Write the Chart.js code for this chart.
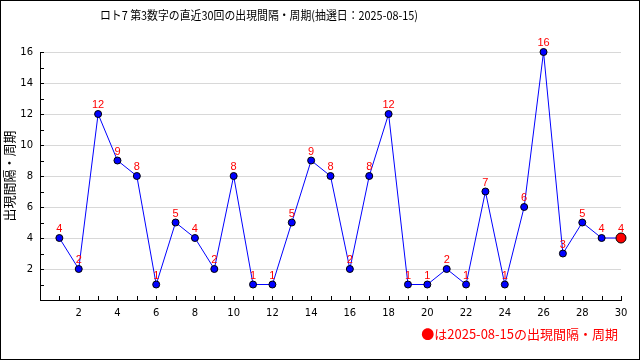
<!DOCTYPE html>
<html>
<head>
<meta charset="utf-8">
<script src="https://cdn.jsdelivr.net/npm/chart.js@4.4.1/dist/chart.umd.min.js"></script>
<style>
  body { margin: 0; background: #fff; }
  #wrap { width: 640px; height: 360px; }
</style>
</head>
<body>
<div id="wrap"><canvas id="intervalChart" width="640" height="360"></canvas></div>
<script>
// 抽選回 (1 = 最古, 30 = 最新)
const draws = [1, 2, 3, 4, 5, 6, 7, 8, 9, 10, 11, 12, 13, 14, 15, 16, 17, 18, 19, 20, 21, 22, 23, 24, 25, 26, 27, 28, 29, 30];
// 出現間隔・周期
const intervals = [4, 2, 12, 9, 8, 1, 5, 4, 2, 8, 1, 1, 5, 9, 8, 2, 8, 12, 1, 1, 2, 1, 7, 1, 6, 16, 3, 5, 4, 4];
const yTicks = [2, 4, 6, 8, 10, 12, 14, 16];
const xTicks = [2, 4, 6, 8, 10, 12, 14, 16, 18, 20, 22, 24, 26, 28, 30];

const titleText = 'ロト7 第3数字の直近30回の出現間隔・周期(抽選日：2025-08-15)';
const yTitle = '出現間隔・周期';
const noteText = '●は2025-08-15の出現間隔・周期';

const jpFont = '"Noto Sans CJK JP", sans-serif';

const last = draws.length - 1;

// title, labels, inner tick marks, frame
const extras = {
    id: 'extras',
    afterDraw(chart) {
        const ctx = chart.ctx;
        const xs = chart.scales.x;
        const ys = chart.scales.y;
        const area = chart.chartArea;
        ctx.save();

        // inner tick marks
        ctx.strokeStyle = '#000';
        ctx.lineWidth = 1;
        ctx.beginPath();
        for (let v = 1; v <= 30; v++) {
            const px = Math.round(xs.getPixelForValue(v)) + 0.5;
            ctx.moveTo(px, area.bottom);
            ctx.lineTo(px, area.bottom - 4);
        }
        for (let v = 1; v <= 16; v++) {
            const py = Math.round(ys.getPixelForValue(v)) + 0.5;
            ctx.moveTo(area.left, py);
            ctx.lineTo(area.left + 4, py);
        }
        ctx.stroke();

        // value labels
        ctx.fillStyle = '#ff0000';
        ctx.font = '11px "Liberation Sans", sans-serif';
        ctx.textAlign = 'center';
        ctx.textBaseline = 'alphabetic';
        const meta = chart.getDatasetMeta(0);
        meta.data.forEach((pt, i) => {
            ctx.fillText(String(intervals[i]), pt.x, pt.y - 6);
        });

        // title (squeezed to the reference width)
        ctx.fillStyle = '#000';
        ctx.font = '12px ' + jpFont;
        ctx.textAlign = 'left';
        ctx.textBaseline = 'middle';
        const tw = ctx.measureText(titleText).width;
        ctx.save();
        ctx.translate(100, 15);
        ctx.scale(318 / tw, 1);
        ctx.fillText(titleText, 0, 0);
        ctx.restore();

        // y axis title
        ctx.save();
        ctx.font = '13px ' + jpFont;
        ctx.translate(9, (area.top + area.bottom) / 2);
        ctx.rotate(-Math.PI / 2);
        ctx.textAlign = 'center';
        ctx.fillText(yTitle, 0, 0);
        ctx.restore();

        // note
        ctx.fillStyle = '#ff0000';
        ctx.font = '13px ' + jpFont;
        ctx.textAlign = 'right';
        ctx.fillText(noteText, 618, 334);

        // frame
        ctx.strokeStyle = '#000';
        ctx.strokeRect(0.5, 0.5, 639, 359);
        ctx.restore();
    }
};

new Chart(document.getElementById('intervalChart'), {
    type: 'line',
    data: {
        datasets: [{
            data: draws.map((d, i) => ({ x: d, y: intervals[i] })),
            borderColor: '#0000ff',
            borderWidth: 1,
            tension: 0,
            fill: false,
            clip: false,
            pointRadius: draws.map((d, i) => i === last ? 5 : 3.5),
            pointBackgroundColor: draws.map((d, i) => i === last ? '#ff0000' : '#0000ff'),
            pointBorderColor: '#000',
            pointBorderWidth: 1
        }]
    },
    options: {
        responsive: false,
        animation: false,
        layout: { padding: { top: 52, right: 19, left: 0, bottom: 0 } },
        plugins: {
            legend: { display: false },
            tooltip: { enabled: false },
            title: { display: false }
        },
        scales: {
            x: {
                type: 'linear',
                min: 0,
                max: 30,
                afterFit(scale) { scale.height = 60; },
                grid: { color: 'transparent', drawTicks: false },
                border: { display: true, color: '#000', width: 1 },
                ticks: {
                    stepSize: 1,
                    autoSkip: false,
                    maxRotation: 0,
                    padding: 7,
                    color: '#000',
                    font: { family: '"DejaVu Sans", sans-serif', size: 10 },
                    callback: v => xTicks.includes(v) ? String(v) : ''
                }
            },
            y: {
                min: 0,
                max: 16,
                afterFit(scale) { scale.width = 40; },
                grid: {
                    drawTicks: false,
                    color: c => yTicks.includes(c.tick.value) ? '#d8d8d8' : 'transparent'
                },
                border: { display: true, color: '#000', width: 1 },
                ticks: {
                    stepSize: 1,
                    autoSkip: false,
                    padding: 7,
                    color: '#000',
                    font: { family: '"DejaVu Sans", sans-serif', size: 10 },
                    callback: v => yTicks.includes(v) ? String(v) : ''
                }
            }
        }
    },
    plugins: [extras]
});
</script>
</body>
</html>
